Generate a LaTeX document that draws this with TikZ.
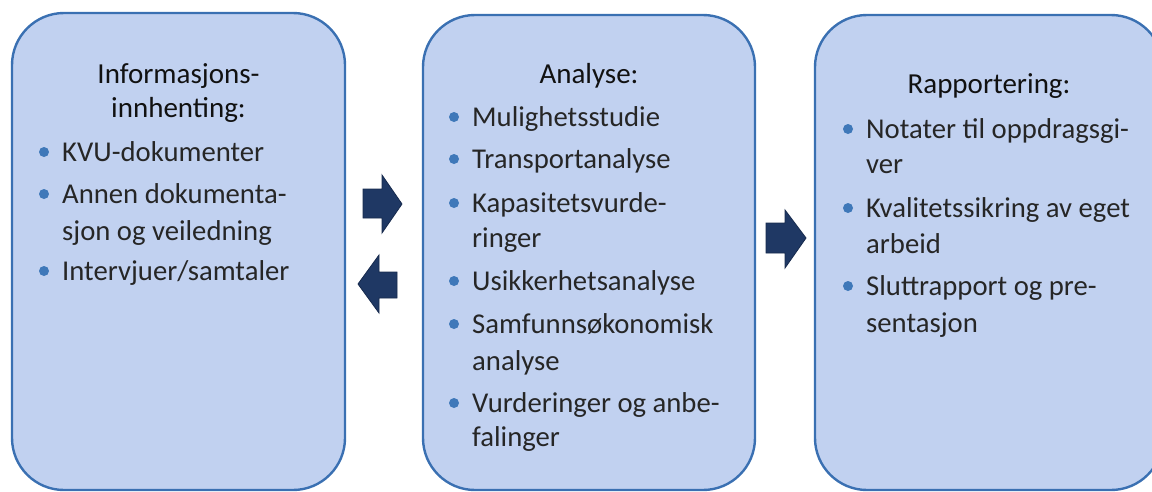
\documentclass[tikz,border=0pt]{standalone}
\usepackage{fontspec}
\setmainfont{Carlito}
\definecolor{boxfill}{HTML}{C1D1F0}
\definecolor{boxline}{HTML}{3A70B2}
\definecolor{arrowfill}{HTML}{1F3864}
\definecolor{arrowline}{HTML}{172A4D}
\definecolor{bulletc}{HTML}{3F78B9}
\definecolor{bodytext}{HTML}{262626}
\definecolor{titletext}{HTML}{111111}
\tikzset{
  phase/.style={draw=boxline, fill=boxfill, line width=2.4pt, rounded corners=52pt},
  blockarrow/.style={fill=arrowfill, draw=arrowline, line width=0.8pt},
  titlebox/.style={anchor=base, inner sep=0pt, text=titletext, font=\fontsize{29}{34}\selectfont},
  itemline/.style={anchor=base west, inner sep=0pt, text=bodytext, font=\fontsize{28.7}{37}\selectfont},
  bulletdot/.style={circle, fill=bulletc, inner sep=0pt, minimum size=10pt},
}
\newcommand{\itm}[4]{% name, x, baseline y, text
  \node[itemline] (#1) at (#2,#3) {#4};
  \node[bulletdot] (#1dot) at ([xshift=-18pt,yshift=9pt]#1.base west) {};
}
\newcommand{\cont}[4]{\node[itemline] (#1) at (#2,#3) {#4};}
\begin{document}
\begin{tikzpicture}[x=1pt,y=-1pt]
\useasboundingbox (0,0) rectangle (1152,491);
\clip (0,0) rectangle (1152,491);
% boxes
\draw[phase] (12,13) rectangle (345,490);
\draw[phase] (423,15) rectangle (755,490);
\draw[phase] (815,15) rectangle (1163,490);
% box 1
\node[titlebox] (t1a) at (178.5,83) {Informasjons-};
\node[titlebox] (t1b) at (178.5,117) {innhenting:};
\itm{a1}{62}{161}{KVU-dokumenter}
\itm{a2}{62}{203}{Annen dokumenta-}
\cont{a2b}{62}{240}{sjon og veiledning}
\itm{a3}{62}{280}{Intervjuer/samtaler}
% box 2
\node[titlebox] (t2) at (589,83) {Analyse:};
\itm{m1}{472}{126}{Mulighetsstudie}
\itm{m2}{472}{168}{Transportanalyse}
\itm{m3}{472}{212}{Kapasitetsvurde-}
\cont{m3b}{472}{247}{ringer}
\itm{m4}{472}{290}{Usikkerhetsanalyse}
\itm{m5}{472}{333}{Samfunnsøkonomisk}
\cont{m5b}{472}{370}{analyse}
\itm{m6}{472}{412}{Vurderinger og anbe-}
\cont{m6b}{472}{446}{falinger}
% box 3
\node[titlebox] (t3) at (989,93) {Rapportering:};
\itm{r1}{866}{138}{Notater til oppdragsgi-}
\cont{r1b}{866}{173}{ver}
\itm{r2}{866}{217}{Kvalitetssikring av eget}
\cont{r2b}{866}{253}{arbeid}
\itm{r3}{866}{295}{Sluttrapport og pre-}
\cont{r3b}{866}{332}{sentasjon}
% block arrows
\draw[blockarrow] (363,189) -- (382,189) -- (382,175) -- (402,204) -- (382,233) -- (382,218) -- (363,218) -- cycle;
\draw[blockarrow] (397,272) -- (379,272) -- (379,255) -- (358,284) -- (379,313) -- (379,298) -- (397,298) -- cycle;
\draw[blockarrow] (766,223) -- (785,223) -- (785,210) -- (806,238) -- (785,268) -- (785,253) -- (766,253) -- cycle;
\end{tikzpicture}
\end{document}
